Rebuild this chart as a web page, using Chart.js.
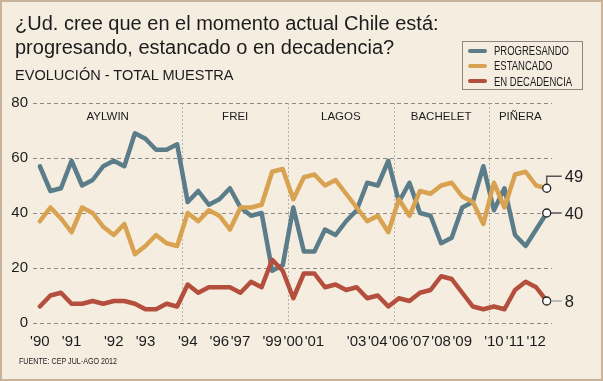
<!DOCTYPE html>
<html><head><meta charset="utf-8">
<script src="https://cdn.jsdelivr.net/npm/chart.js@4.4.1/dist/chart.umd.min.js"></script>
<style>
html,body{margin:0;padding:0;background:#f5ede0;}
#wrap{position:relative;width:603px;height:381px;background:#f5ede0;overflow:hidden;}
#frame{position:absolute;left:0;top:0;width:603px;height:381px;box-sizing:border-box;border:2px solid #c9b49b;pointer-events:none;}
canvas{position:absolute;left:0;top:0;}
.t{position:absolute;font-family:'Liberation Sans',Arial,sans-serif;color:#1c1c1c;white-space:nowrap;line-height:1;transform-origin:0 0;}
#legend{position:absolute;left:462px;top:41px;width:121px;height:49px;box-sizing:border-box;border:1px solid #8d8781;}
.li{position:absolute;left:5px;height:14px;white-space:nowrap;font-family:'Liberation Sans',Arial,sans-serif;font-size:12.5px;color:#1c1c1c;line-height:14px;}
.li .tx{display:inline-block;transform:scaleX(0.76);transform-origin:0 50%;}
.sw{display:inline-block;width:19px;height:4px;border-radius:2px;vertical-align:middle;margin-right:7px;position:relative;top:-1px;}
</style></head>
<body>
<div id="wrap">
  <canvas id="c" width="603" height="381"></canvas>
  <div class="t" id="title" style="left:15px;top:11px;font-size:20px;line-height:24px;"></div>
  <div class="t" id="sub" style="left:15px;top:67px;font-size:15px;transform:scaleX(0.97);"></div>
  <div class="t" id="src" style="left:19px;top:357px;font-size:8.5px;transform:scaleX(0.84);"></div>
  <div id="legend"></div>
  <div id="frame"></div>
</div>
<script>
// ---- data ----
const titleLines = ['¿Ud. cree que en el momento actual Chile está:', 'progresando, estancado o en decadencia?'];
const subtitle = 'EVOLUCIÓN - TOTAL MUESTRA';
const sourceNote = 'FUENTE: CEP JUL-AGO 2012';
const seriesNames = ['PROGRESANDO', 'ESTANCADO', 'EN DECADENCIA'];
// one entry per survey; year label on the first survey shown for that year
const categories = ["'90","","","'91","","","","'92","","","'93","","","","'94","","","'96","","'97","","","'99","","'00","","'01","","","","'03","","'04","","'06","","'07","","'08","","'09","","","'10","","'11","","'12",""];
const progresando = [57,48,49,59,50,52,57,59,57,69,67,63,63,65,44,48,43,45,49,42,39,40,19,21,42,26,26,34,32,37,41,51,50,59,44,51,40,39,29,31,42,44,57,41,49,32,28,34,40];
const estancado   = [37,42,38,33,42,40,35,32,36,25,28,32,29,28,40,37,41,39,34,42,42,43,55,56,45,53,54,50,52,47,42,37,39,33,45,39,48,47,50,51,46,44,36,51,42,54,55,50,49];
const decadencia  = [6,10,11,7,7,8,7,8,8,7,5,5,7,6,14,11,13,13,13,11,15,13,23,19,9,18,18,13,14,12,13,9,10,6,9,8,11,12,17,16,11,6,5,6,5,12,15,13,8];
const presidents = ['AYLWIN','FREI','LAGOS','BACHELET','PIÑERA'];
const termStartIndex = [0,14,24,34,43];
const yTicks = [0,20,40,60,80];

// ---- styles ----
const colors = ['#5b7d8a','#d9a251','#b44f3e'];
const FONT = "'Liberation Sans', Arial, sans-serif";

document.getElementById('title').innerHTML = titleLines.join('<br>');
document.getElementById('sub').textContent = subtitle;
document.getElementById('src').textContent = sourceNote;
const lg = document.getElementById('legend');
seriesNames.forEach((n,i)=>{
  const d=document.createElement('div'); d.className='li'; d.style.top=(2+i*15.3)+'px';
  d.innerHTML='<span class="sw" style="background:'+colors[i]+'"></span><span class="tx">'+n+'</span>';
  lg.appendChild(d);
});

const allSeries = [progresando, estancado, decadencia];
const labelTickValues = categories.map((c,i)=>c?i:null).filter(v=>v!==null);
const lastIdx = categories.length-1;

const overlay = {
  id:'overlay',
  beforeDatasetsDraw(chart){
    const {ctx, chartArea:a, scales:{x,y}} = chart;
    ctx.save();
    ctx.strokeStyle='#b9b2a8'; ctx.lineWidth=1; ctx.setLineDash([2,2]);
    termStartIndex.slice(1).forEach(s=>{
      const px=Math.round(x.getPixelForValue(s-0.5))+0.5;
      ctx.beginPath(); ctx.moveTo(px,a.top); ctx.lineTo(px,a.bottom); ctx.stroke();
    });
    ctx.setLineDash([]);
    ctx.fillStyle='#1c1c1c'; ctx.font='11.5px '+FONT; ctx.textAlign='center'; ctx.textBaseline='middle';
    presidents.forEach((p,i)=>{
      const s = i===0 ? x.min : termStartIndex[i]-0.5;
      const e = i<presidents.length-1 ? termStartIndex[i+1]-0.5 : x.max;
      ctx.fillText(p, x.getPixelForValue((s+e)/2), y.getPixelForValue(75));
    });
    ctx.restore();
  },
  afterDatasetsDraw(chart){
    const {ctx, scales:{x,y}} = chart;
    ctx.save();
    const px = x.getPixelForValue(lastIdx);
    const lift = [0,-12,0];
    const lineCol = ['#555','#555','#aaa'];
    allSeries.forEach((s,i)=>{
      const v=s[lastIdx]; const py=y.getPixelForValue(v);
      ctx.strokeStyle=lineCol[i]; ctx.lineWidth=1.5;
      ctx.beginPath();
      if(lift[i]){ ctx.moveTo(px,py-4); ctx.lineTo(px,py+lift[i]); ctx.lineTo(px+15,py+lift[i]); }
      else { ctx.moveTo(px+4,py); ctx.lineTo(px+15,py); }
      ctx.stroke();
      ctx.fillStyle='#1c1c1c'; ctx.font='16.5px '+FONT; ctx.textAlign='left'; ctx.textBaseline='middle';
      ctx.fillText(String(v), px+18, py+lift[i]+1);
    });
    ctx.restore();
  }
};

const datasets = allSeries.map((s,i)=>({
  label: seriesNames[i],
  data: s.map((v,j)=>({x:j,y:v})),
  borderColor: colors[i],
  borderWidth: 4.5,
  borderJoinStyle:'round', borderCapStyle:'round',
  tension:0,
  order: [2,1,0][i],
  pointRadius: s.map((_,j)=>j===lastIdx?4:0),
  pointHoverRadius:0,
  pointBackgroundColor:'#ffffff',
  pointBorderColor:'#222',
  pointBorderWidth:1.3
}));

new Chart(document.getElementById('c'), {
  type:'line',
  data:{datasets},
  options:{
    responsive:false, animation:false, devicePixelRatio:1,
    layout:{padding:{top:103,right:51,bottom:0,left:0}},
    plugins:{legend:{display:false}, tooltip:{enabled:false}, title:{display:false}},
    scales:{
      x:{type:'linear', min:-0.65, max:48.5,
        afterBuildTicks:(sc)=>{ sc.ticks = labelTickValues.map(v=>({value:v})); },
        afterFit:(sc)=>{ sc.height = 58; },
        ticks:{autoSkip:false, maxRotation:0, padding:2, color:'#1c1c1c', font:{size:15, family:FONT},
          callback:(v)=>categories[v]},
        grid:{display:false}, border:{display:false}},
      y:{min:0, max:80,
        afterBuildTicks:(sc)=>{ sc.ticks = yTicks.map(v=>({value:v})); },
        afterFit:(sc)=>{ sc.width = 33; },
        ticks:{padding:5, color:'#1c1c1c', font:{size:15, family:FONT}},
        grid:{color:'#8e8983', lineWidth:1, drawTicks:false},
        border:{display:false, dash:[4,3]}}
    }
  },
  plugins:[overlay]
});
</script>
</body></html>
